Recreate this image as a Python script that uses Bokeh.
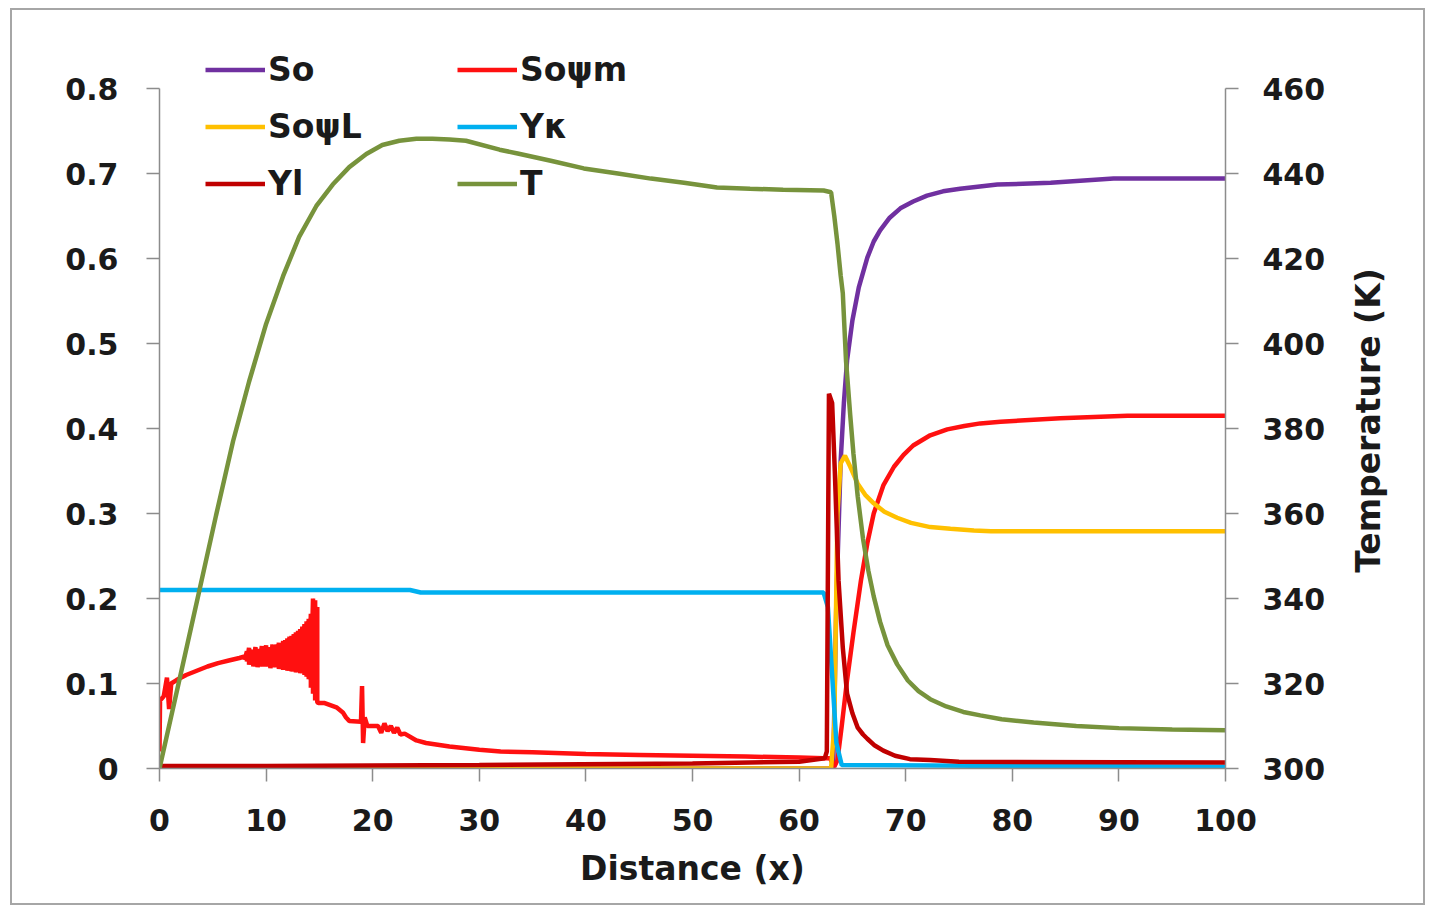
import math
from bokeh.plotting import figure
from bokeh.models import Range1d, LinearAxis, Legend, LegendItem, FixedTicker, Label
from bokeh.embed import file_html
from bokeh.resources import INLINE

# ---------------- data ----------------
x_ticks = [0, 10, 20, 30, 40, 50, 60, 70, 80, 90, 100]
left_ticks = [0, 0.1, 0.2, 0.3, 0.4, 0.5, 0.6, 0.7, 0.8]
right_ticks = [300, 320, 340, 360, 380, 400, 420, 440, 460]
left_labels = {0: "0", 0.1: "0.1", 0.2: "0.2", 0.3: "0.3", 0.4: "0.4",
               0.5: "0.5", 0.6: "0.6", 0.7: "0.7", 0.8: "0.8"}

series_names = ["So", "So\u03c8m", "So\u03c8L", "Y\u03ba", "Yl", "T"]
x_title = "Distance (x)"
right_title = "Temperature (K)"

# So (purple)
so_x = [0, 63.2, 63.5, 63.9, 64.2, 64.5, 65.0, 65.6, 66.4, 67.0, 67.6, 68.5, 69.5, 70.7, 72.0,
        73.5, 75.1, 78.6, 83.6, 89.5, 100]
so_y = [0, 0, 0.2, 0.362, 0.43, 0.48, 0.527, 0.566, 0.601, 0.62, 0.633, 0.648, 0.659, 0.667, 0.674,
        0.679, 0.682, 0.687, 0.689, 0.694, 0.694]

# So-psi-m (red): start, noisy band (upper / lower envelope), tail
som_start_x = [0, 0.05, 0.4, 0.7, 0.9, 1.1, 1.6, 2.5, 3.5, 4.5, 5.5, 6.5, 7.5]
som_start_y = [0.02, 0.08, 0.085, 0.107, 0.07, 0.1, 0.104, 0.11, 0.115, 0.12, 0.124, 0.127, 0.13]
som_noise_x = [8.0, 8.2, 8.4, 8.6, 8.8, 9.0, 9.2, 9.4, 9.6, 9.8, 10.0, 10.2, 10.4, 10.6, 10.8,
               11.0, 11.2, 11.4, 11.6, 11.8, 12.0, 12.2, 12.4, 12.6, 12.8, 13.0, 13.2, 13.4, 13.6,
               13.8, 14.0, 14.2, 14.4, 14.6, 14.8]
som_noise_hi = [0.132, 0.138, 0.142, 0.14, 0.139, 0.143, 0.141, 0.14, 0.144, 0.142, 0.145, 0.14,
                0.143, 0.146, 0.144, 0.146, 0.148, 0.147, 0.15, 0.151, 0.153, 0.155, 0.156, 0.158,
                0.16, 0.162, 0.164, 0.167, 0.17, 0.173, 0.176, 0.182, 0.2, 0.198, 0.19]
som_noise_lo = [0.128, 0.126, 0.122, 0.125, 0.12, 0.124, 0.119, 0.125, 0.12, 0.124, 0.12, 0.123,
                0.118, 0.122, 0.119, 0.12, 0.117, 0.119, 0.116, 0.118, 0.115, 0.117, 0.114, 0.116,
                0.113, 0.114, 0.112, 0.113, 0.11, 0.108, 0.105, 0.095, 0.088, 0.08, 0.078]
som_tail_x = [14.9, 15.5, 16.6, 17.2, 17.5, 17.8, 18.9, 19.0, 19.1, 19.25, 19.5, 20.0, 20.5, 20.8,
              21.1, 21.4, 21.7, 22.0, 22.3, 22.6, 23.0, 24.1, 25.0, 27.2, 30, 32, 35, 40, 45, 50,
              55, 60, 62.3, 62.9, 63.3, 63.6, 64.0, 64.5, 65.1, 65.8, 66.4, 67.0, 67.9, 68.9, 69.8,
              70.7, 72.3, 73.9, 75.5, 77.0, 78.9, 84.5, 90.8, 100]
som_tail_y = [0.077, 0.077, 0.072, 0.066, 0.06, 0.056, 0.055, 0.097, 0.03, 0.06, 0.05, 0.05, 0.05,
              0.042, 0.053, 0.044, 0.05, 0.042, 0.048, 0.04, 0.041, 0.033, 0.03, 0.026, 0.022, 0.02,
              0.019, 0.017, 0.016, 0.015, 0.014, 0.013, 0.012, 0.012, 0.002, 0.01, 0.05, 0.104,
              0.16, 0.221, 0.265, 0.30, 0.333, 0.355, 0.369, 0.38, 0.392, 0.399, 0.403, 0.406,
              0.408, 0.412, 0.415, 0.415]

# So-psi-L (yellow)
sol_x = [0, 63.0, 63.3, 63.6, 63.9, 64.3, 64.8, 65.5, 66.2, 67.0, 68.0, 69.2, 70.5, 72.3, 74.2,
         76.4, 78, 100]
sol_y = [0, 0, 0.05, 0.3, 0.359, 0.368, 0.355, 0.335, 0.322, 0.312, 0.302, 0.295, 0.289, 0.284,
         0.282, 0.28, 0.279, 0.279]

# Y-kappa (light blue)
yk_x = [0, 23.5, 24.5, 62.3, 62.7, 63.2, 63.5, 64.0, 100]
yk_y = [0.21, 0.21, 0.207, 0.207, 0.19, 0.09, 0.03, 0.004, 0.002]

# Yl (dark red)
yl_x = [0, 10, 30, 50, 60, 62.4, 62.6, 62.8, 63.1, 63.35, 63.7, 64.1, 64.5, 65.0, 65.5, 66.0,
        66.4, 67.1, 67.9, 69.0, 70.4, 72.3, 75, 100]
yl_y = [0.003, 0.003, 0.004, 0.006, 0.008, 0.012, 0.02, 0.441, 0.43, 0.35, 0.221, 0.142, 0.088,
        0.065, 0.048, 0.04, 0.035, 0.027, 0.021, 0.015, 0.011, 0.01, 0.008, 0.007]

# T (olive green, right axis, K)
t_x = [0, 2.2, 3.75, 5.3, 6.9, 8.4, 10, 11.6, 13.1, 14.7, 16.25, 17.8, 19.4, 20.9, 22.5, 24.1,
       25.6, 27.2, 28.75, 31.9, 33.6, 36.7, 39.8, 43, 46.1, 49.2, 52.3, 55.4, 58.5, 62.3, 63.0,
       63.3, 63.6, 63.9, 64.1, 64.4, 64.8, 65.1, 65.5, 66.0, 66.5, 67.0, 67.6, 68.3, 69.2, 70.2,
       71.2, 72.3, 73.8, 75.4, 77, 79, 82, 86, 90, 95, 100]
t_y = [300, 324.6, 342, 359.5, 377, 391, 404.6, 415.9, 425.1, 432.3, 437.4, 441.5, 444.6, 446.7,
       447.7, 448.2, 448.2, 448, 447.7, 445.6, 444.7, 443, 441.2, 440, 438.8, 437.8, 436.7, 436.4,
       436.2, 436, 435.6, 430, 423.5, 416, 411.8, 396, 383, 374, 364, 354, 346.5, 340.5, 334.5,
       329, 324.5, 320.7, 318.2, 316.3, 314.6, 313.3, 312.5, 311.6, 310.8, 310, 309.5, 309.2, 309]

colors = ["#7030A0", "#FF1010", "#FFC000", "#00B0F0", "#C00000", "#77933C"]

# build the So-psi-m path from its pieces
som_x = list(som_start_x)
som_y = list(som_start_y)
for xv, hv, lv in zip(som_noise_x, som_noise_hi, som_noise_lo):
    som_x += [xv, xv]
    som_y += [hv, lv]
som_x += som_tail_x
som_y += som_tail_y

# ---------------- figure ----------------
FONT = "DejaVu Sans"
TXT = "#1a1a1a"
AX = "#8c8c8c"

# left axis spans 680 px for 0..0.8; frame extends EXT px above 0.8 so the legend is not clipped
EXT = 40
LEFT_TOP = 0.8 + EXT / 850.0
RIGHT_TOP = 460 + EXT / 4.25

p = figure(frame_width=1066, frame_height=680 + EXT,
           min_border_left=147, min_border_right=198, min_border_top=78 - EXT, min_border_bottom=135,
           x_range=Range1d(0, 100), y_range=Range1d(0, LEFT_TOP),
           output_backend="svg", toolbar_location=None, tools="")
p.styles = {"border": "2px solid #a6a6a6", "margin-left": "10px", "margin-top": "8px"}
p.background_fill_color = "white"
p.border_fill_color = "white"
p.outline_line_color = None
p.xgrid.visible = False
p.ygrid.visible = False

p.extra_y_ranges = {"temp": Range1d(300, RIGHT_TOP)}
raxis = LinearAxis(y_range_name="temp", ticker=FixedTicker(ticks=right_ticks), bounds=(300, 460))
p.add_layout(raxis, "right")

laxis = p.left[0]
baxis = p.below[0]
baxis.ticker = FixedTicker(ticks=x_ticks)
laxis.ticker = FixedTicker(ticks=left_ticks)
laxis.major_label_overrides = left_labels
laxis.bounds = (0, 0.8)
baxis.axis_label = x_title

for ax in [baxis, laxis, raxis]:
    ax.axis_line_color = AX
    ax.axis_line_width = 1.5
    ax.major_tick_line_color = AX
    ax.major_tick_line_width = 1.5
    ax.major_tick_out = 13
    ax.major_tick_in = 0
    ax.minor_tick_out = 0
    ax.minor_tick_in = 0
    ax.major_label_text_font = FONT
    ax.major_label_text_font_style = "bold"
    ax.major_label_text_font_size = "30px"
    ax.major_label_text_color = TXT
    ax.axis_label_text_font = FONT
    ax.axis_label_text_font_style = "bold"
    ax.axis_label_text_font_size = "33px"
    ax.axis_label_text_color = TXT

laxis.major_label_standoff = 28
baxis.major_label_standoff = 27
baxis.axis_label_standoff = 15
raxis.major_label_standoff = 24

# right-axis title as a rotated label in the right panel, centred on the 300-460 span
tlabel = Label(x=40, y=348, x_units="screen", y_units="screen", text=right_title,
               angle=math.pi / 2, text_align="center", text_baseline="middle",
               text_font=FONT, text_font_style="bold", text_font_size="33px", text_color=TXT)
p.add_layout(tlabel, "right")

LW = 4.5
r_so = p.line(so_x, so_y, line_color=colors[0], line_width=LW)
# dense oscillation of So-psi-m drawn as a filled band between its envelopes
p.varea(x=som_noise_x, y1=som_noise_lo, y2=som_noise_hi, fill_color=colors[1])
r_som = p.line(som_x, som_y, line_color=colors[1], line_width=LW)
r_sol = p.line(sol_x, sol_y, line_color=colors[2], line_width=LW)
r_yk = p.line(yk_x, yk_y, line_color=colors[3], line_width=LW)
r_yl = p.line(yl_x, yl_y, line_color=colors[4], line_width=LW)
r_t = p.line(t_x, t_y, line_color=colors[5], line_width=LW, y_range_name="temp")

renderers = [r_so, r_som, r_sol, r_yk, r_yl, r_t]
items = [LegendItem(label=n, renderers=[r]) for n, r in zip(series_names, renderers)]
legend = Legend(items=items, location=(46, 556), orientation="horizontal", ncols=2,
                glyph_width=60, glyph_height=57, label_height=57, label_width=189,
                label_standoff=3, spacing=0, padding=0, margin=0,
                background_fill_alpha=0, border_line_alpha=0,
                label_text_font=FONT, label_text_font_style="bold",
                label_text_font_size="33px", label_text_color=TXT)
p.add_layout(legend)

open("out.html", "w").write(file_html(p, INLINE))
